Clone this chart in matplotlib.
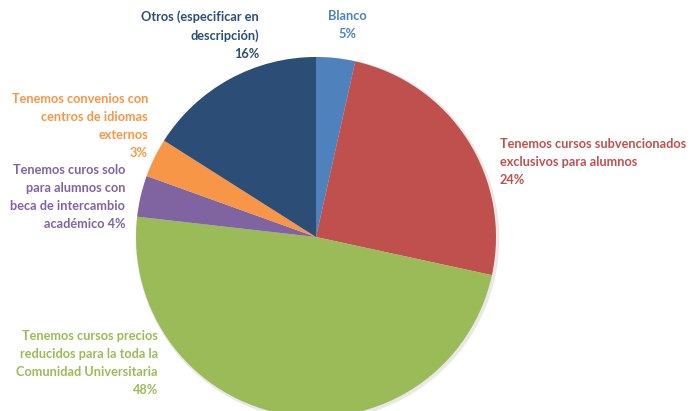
import matplotlib.pyplot as plt

names = ['Blanco',
         'Tenemos cursos subvencionados\nexclusivos para alumnos',
         'Tenemos cursos precios\nreducidos para la toda la\nComunidad Universitaria',
         'Tenemos curos solo\npara alumnos con\nbeca de intercambio\nacadémico',
         'Tenemos convenios con\ncentros de idiomas\nexternos',
         'Otros (especificar en\ndescripción)']
values = [3.5, 24.9, 48.4, 3.7, 3.5, 16.0]
pct_labels = ['5%', '24%', '48%', '4%', '3%', '16%']
colors = ['#4F81BD', '#C0504D', '#9BBB59', '#8064A2', '#F79646', '#2C4D75']

plt.rcParams['font.family'] = ['Lato', 'DejaVu Sans']

W, H = 690, 411
fig = plt.figure(figsize=(6.9, 4.11), dpi=100)
ax = fig.add_axes([0, 0, 1, 1])

cx, cy, r = 316, 237, 180

# faint shadow
sh = plt.Circle((cx + 1.5, H - cy - 1.5), r + 1, color='#e8e8e8', zorder=0)
ax.add_patch(sh)

ax.pie(values, colors=colors, startangle=90, counterclock=False,
       center=(cx, H - cy), radius=r, wedgeprops=dict(linewidth=0))

ax.set_xlim(0, W)
ax.set_ylim(0, H)
ax.set_aspect('equal')
ax.axis('off')

fs = 9.2
ls = 1.6
# label positions in pixels (x, y of first line), alignment
ax.text(347, H - 10, names[0] + '\n' + pct_labels[0], color=colors[0],
        fontsize=fs, fontweight='bold', ha='center', va='top',
        multialignment='center', linespacing=ls)
ax.text(500, H - 138, names[1] + '\n' + pct_labels[1], color=colors[1],
        fontsize=fs, fontweight='bold', ha='left', va='top',
        multialignment='left', linespacing=ls)
ax.text(158, H - 330, names[2] + '\n' + pct_labels[2], color=colors[2],
        fontsize=fs, fontweight='bold', ha='right', va='top',
        multialignment='right', linespacing=ls)
ax.text(125, H - 164, names[3] + ' ' + pct_labels[3], color=colors[3],
        fontsize=fs, fontweight='bold', ha='right', va='top',
        multialignment='right', linespacing=ls)
ax.text(148, H - 93, names[4] + '\n' + pct_labels[4], color=colors[4],
        fontsize=fs, fontweight='bold', ha='right', va='top',
        multialignment='right', linespacing=ls)
ax.text(259, H - 10, names[5] + '\n' + pct_labels[5], color=colors[5],
        fontsize=fs, fontweight='bold', ha='right', va='top',
        multialignment='right', linespacing=ls)

plt.savefig('out.png', dpi=100)
